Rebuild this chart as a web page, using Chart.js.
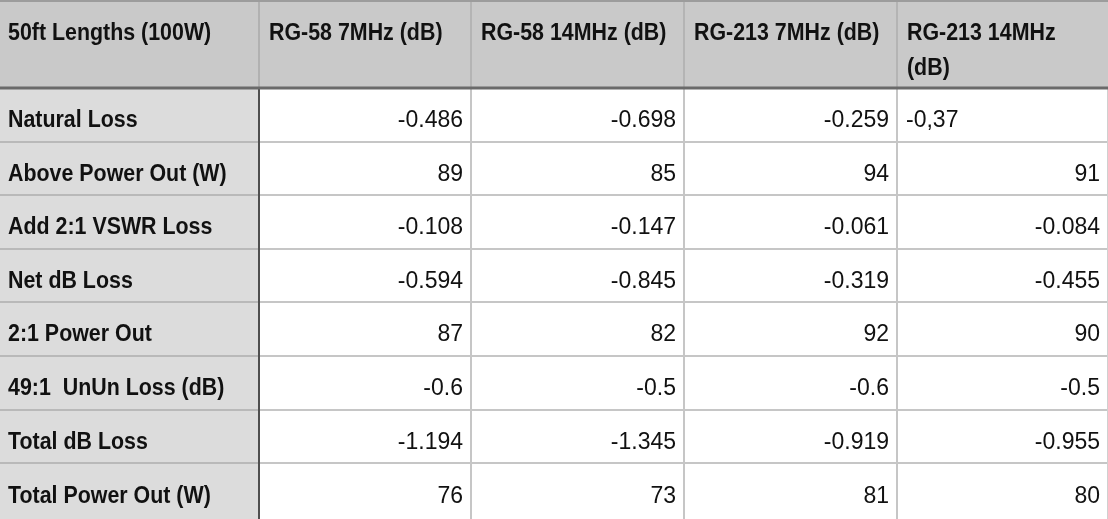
<!DOCTYPE html>
<html><head><meta charset="utf-8">
<script src="https://cdn.jsdelivr.net/npm/chart.js@4.4.1/dist/chart.umd.min.js"></script>
<style>html,body{margin:0;padding:0;background:#fff;overflow:hidden}#wrap{width:1108px;height:519px;position:relative}</style>
</head><body><div id="wrap"><canvas id="c"></canvas></div>
<script>
// ---- data ----
const headers = ["50ft Lengths (100W)", "RG-58 7MHz (dB)", "RG-58 14MHz (dB)", "RG-213 7MHz (dB)", ["RG-213 14MHz", "(dB)"]];
const rowLabels = ["Natural Loss", "Above Power Out (W)", "Add 2:1 VSWR Loss", "Net dB Loss", "2:1 Power Out", "49:1  UnUn Loss (dB)", "Total dB Loss", "Total Power Out (W)"];
const rg58_7   = [-0.486, 89, -0.108, -0.594, 87, -0.6, -1.194, 76];
const rg58_14  = [-0.698, 85, -0.147, -0.845, 82, -0.5, -1.345, 73];
const rg213_7  = [-0.259, 94, -0.061, -0.319, 92, -0.6, -0.919, 81];
const rg213_14 = ["-0,37", 91, -0.084, -0.455, 90, -0.5, -0.955, 80];

// ---- layout (scale units) ----
const COL_EDGES = [0, 259, 471, 684, 897, 1108];
const ROW_EDGES = [0, 88, 142, 195, 249, 302, 356, 410, 463, 519];
const FONT = '"Liberation Sans", Arial, Helvetica, sans-serif';

const columns = [rg58_7, rg58_14, rg213_7, rg213_14];
const datasets = columns.map((col, ci) => ({
  label: headers[ci + 1],
  data: col.map((v, ri) => ({ x: (COL_EDGES[ci + 1] + COL_EDGES[ci + 2]) / 2, y: (ROW_EDGES[ri + 1] + ROW_EDGES[ri + 2]) / 2, v: v, ri: ri, ci: ci })),
  pointRadius: 0, pointHoverRadius: 0, showLine: false
}));

const tablePlugin = {
  id: 'table',
  beforeDraw(chart) {
    const ctx = chart.ctx, xs = chart.scales.x, ys = chart.scales.y;
    const X = v => xs.getPixelForValue(v), Y = v => ys.getPixelForValue(v);
    ctx.save();
    ctx.fillStyle = '#ffffff';
    ctx.fillRect(X(0), Y(0), X(1108) - X(0), Y(519) - Y(0));
    ctx.fillStyle = '#c9c9c9';
    ctx.fillRect(X(0), Y(0), X(COL_EDGES[5]) - X(0), Y(ROW_EDGES[1]) - Y(0));
    ctx.fillStyle = '#dcdcdc';
    ctx.fillRect(X(0), Y(ROW_EDGES[1]), X(COL_EDGES[1]) - X(0), Y(ROW_EDGES[9]) - Y(ROW_EDGES[1]));
    ctx.restore();
  },
  afterDraw(chart) {
    const ctx = chart.ctx, xs = chart.scales.x, ys = chart.scales.y;
    const X = v => xs.getPixelForValue(v), Y = v => ys.getPixelForValue(v);
    const line = (x0, y0, x1, y1, c, w) => { ctx.strokeStyle = c; ctx.lineWidth = w; ctx.beginPath(); ctx.moveTo(X(x0), Y(y0)); ctx.lineTo(X(x1), Y(y1)); ctx.stroke(); };
    ctx.save();
    // row lines
    for (let i = 2; i < ROW_EDGES.length - 1; i++) {
      line(0, ROW_EDGES[i], COL_EDGES[1], ROW_EDGES[i], '#b9b9b9', 2);
      line(COL_EDGES[1], ROW_EDGES[i], COL_EDGES[5], ROW_EDGES[i], '#c6c6c6', 2);
    }
    // column lines
    for (let i = 2; i < COL_EDGES.length - 1; i++) {
      line(COL_EDGES[i], 0, COL_EDGES[i], ROW_EDGES[1], '#adadad', 1.5);
      line(COL_EDGES[i], ROW_EDGES[1], COL_EDGES[i], ROW_EDGES[9], '#c6c6c6', 2);
    }
    line(COL_EDGES[1], 0, COL_EDGES[1], ROW_EDGES[1], '#a9a9a9', 1.5);
    line(COL_EDGES[1], ROW_EDGES[1], COL_EDGES[1], ROW_EDGES[9], '#4f4f4f', 2);
    line(1107.5, ROW_EDGES[1], 1107.5, ROW_EDGES[9], '#d0d0d0', 1);
    // top border and header bottom
    line(0, 1, COL_EDGES[5], 1, '#9c9c9c', 2);
    line(0, ROW_EDGES[1], COL_EDGES[5], ROW_EDGES[1], '#6a6a6a', 3);

    const text = (t, xv, yp, align, bold, size, sx) => {
      ctx.save();
      ctx.font = (bold ? 'bold ' : '') + size + 'px ' + FONT;
      ctx.textAlign = align; ctx.textBaseline = 'alphabetic';
      ctx.fillStyle = '#111111';
      ctx.translate(X(xv), yp);
      ctx.scale(sx, 1);
      ctx.fillText(t, 0, 0);
      ctx.restore();
    };
    // headers
    headers.forEach((h, ci) => {
      const lines = Array.isArray(h) ? h : [h];
      lines.forEach((t, li) => text(t, COL_EDGES[ci] + (ci === 0 ? 8 : 10), Y(40) + li * 35, 'left', true, 23, 0.93));
    });
    // row labels
    rowLabels.forEach((t, ri) => {
      const cy = (ROW_EDGES[ri + 1] + ROW_EDGES[ri + 2]) / 2;
      text(t, 8, Y(cy) + 12, 'left', true, 23, 0.93);
    });
    // values from dataset elements
    chart.data.datasets.forEach((ds, di) => {
      const meta = chart.getDatasetMeta(di);
      meta.data.forEach((el, i) => {
        const p = ds.data[i];
        const isNum = typeof p.v === 'number';
        const xv = isNum ? COL_EDGES[p.ci + 2] - 8 : COL_EDGES[p.ci + 1] + 9;
        text(String(p.v), xv, el.y + 12, isNum ? 'right' : 'left', false, 23, 1);
      });
    });
    ctx.restore();
  }
};

new Chart(document.getElementById('c'), {
  type: 'scatter',
  data: { datasets },
  options: {
    responsive: true, maintainAspectRatio: false, animation: false,
    layout: { padding: 0 },
    plugins: { legend: { display: false }, tooltip: { enabled: false } },
    events: [],
    scales: {
      x: { type: 'linear', min: 0, max: 1108, display: false },
      y: { type: 'linear', min: 0, max: 519, reverse: true, display: false }
    }
  },
  plugins: [tablePlugin]
});
</script></body></html>
